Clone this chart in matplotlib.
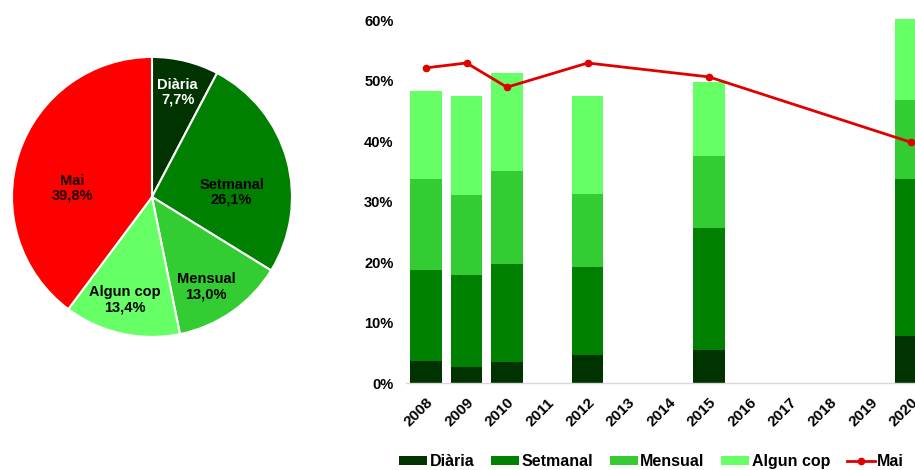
import numpy as np
import matplotlib
matplotlib.use("Agg")
import matplotlib.pyplot as plt
import matplotlib.transforms as mtransforms
from matplotlib.ticker import FuncFormatter

plt.rcParams["font.family"] = ["Liberation Sans", "DejaVu Sans"]
plt.rcParams["font.weight"] = "bold"

# Frequency categories and colours
categories = ["Diària", "Setmanal", "Mensual", "Algun cop", "Mai"]
colors = ["#003300", "#008000", "#33cc33", "#66ff66", "#ff0000"]

# Latest survey (pie)
pie_values = [7.7, 26.1, 13.0, 13.4, 39.8]

# Time series (stacked bars + line), in %
axis_years = [str(y) for y in range(2008, 2021)]
survey_years = ["2008", "2009", "2010", "2012", "2015", "2020"]
diaria = [3.6, 2.6, 3.4, 4.7, 5.5, 7.7]
setmanal = [15.1, 15.3, 16.2, 14.4, 20.1, 26.1]
mensual = [15.1, 13.2, 15.4, 12.2, 11.9, 13.0]
algun_cop = [14.5, 16.4, 16.3, 16.2, 12.3, 13.4]
mai = [52.1, 52.9, 48.9, 52.9, 50.6, 39.8]

fig = plt.figure(figsize=(9.15, 4.70), dpi=100)

# ---- pie ----
ax_pie = fig.add_axes([0.0131, 0.283, 0.306, 0.596])
wedges, _ = ax_pie.pie(pie_values, colors=colors, startangle=90, counterclock=False,
                       wedgeprops=dict(edgecolor="white", linewidth=1.5))
ax_pie.set_xlim(-1, 1)
ax_pie.set_ylim(-1, 1)
ax_pie.set_aspect("equal")

label_r = [0.77, 0.57, 0.75, 0.76, 0.57]
label_shift = [0, -12, -4, -2, 12]
label_colors = ["white", "black", "black", "black", "#1a0000"]
for w, name, v, r, sh, c in zip(wedges, categories, pie_values, label_r, label_shift, label_colors):
    ang = np.deg2rad((w.theta1 + w.theta2) / 2 + sh)
    txt = f"{name}\n{v:.1f}%".replace(".", ",")
    ax_pie.text(r * np.cos(ang), r * np.sin(ang), txt, ha="center", va="center",
                fontsize=10.5, fontweight="bold", color=c, linespacing=1.1)

# ---- stacked bars ----
ax = fig.add_axes([0.4437, 0.1851, 0.5738, 0.798])
pos = {y: i for i, y in enumerate(axis_years)}
x = np.array([pos[y] for y in survey_years])
bottom = np.zeros(len(x))
handles = []
for name, vals, c in zip(categories[:4], [diaria, setmanal, mensual, algun_cop], colors[:4]):
    b = ax.bar(x, vals, width=0.78, bottom=bottom, color=c, label=name, zorder=2)
    bottom += np.array(vals)
    handles.append(b)
line, = ax.plot(x, mai, color="#e00000", linewidth=2, marker="o", markersize=4.5,
                label="Mai", zorder=3)
handles.append(line)

ax.set_xlim(-0.5, len(axis_years) - 0.5)
ax.set_ylim(0, 62)
ax.set_xticks(range(len(axis_years)))
ax.set_xticklabels(axis_years, rotation=45, ha="right", rotation_mode="anchor",
                   fontsize=11, fontweight="bold")
# nudge the rotated year labels a little to the left
nudge = mtransforms.ScaledTranslation(-4 / 72, 0, fig.dpi_scale_trans)
for lbl in ax.get_xticklabels():
    lbl.set_transform(lbl.get_transform() + nudge)
ax.set_yticks(range(0, 61, 10))
ax.yaxis.set_major_formatter(FuncFormatter(lambda v, _: f"{int(v)}%"))
ax.tick_params(axis="y", length=0, labelsize=10.5, pad=9)
ax.tick_params(axis="x", length=0, pad=9)
for s in ["top", "right", "left"]:
    ax.spines[s].set_visible(False)
ax.spines["bottom"].set_color("#d9d9d9")
ax.spines["bottom"].set_linewidth(1)

fig.legend(handles=handles, labels=categories, loc="center", ncol=5,
           bbox_to_anchor=(0.712, 0.018), frameon=False,
           prop=dict(size=11.5, weight="bold"), handlelength=1.75, handleheight=0.45,
           handletextpad=0.15, columnspacing=1.05)

fig.savefig("out.png", dpi=100)
